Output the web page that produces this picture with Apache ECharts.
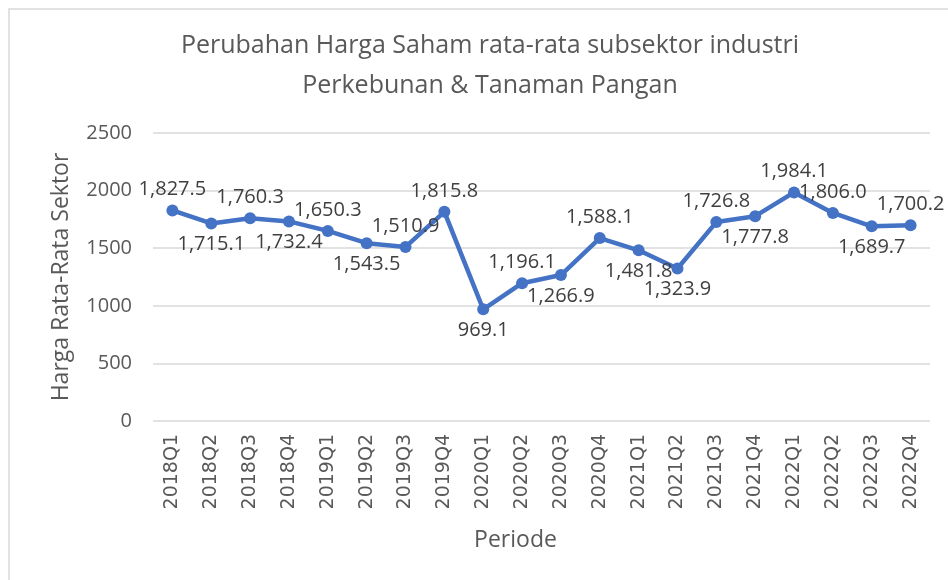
<!DOCTYPE html>
<html>
<head>
  <meta charset="utf-8">
  <title>Perubahan Harga Saham</title>
  <script src="https://cdn.jsdelivr.net/npm/echarts@6/dist/echarts.min.js"></script>
  <style>
    html, body { margin: 0; padding: 0; background: #fff; }
    #chart { width: 948px; height: 580px; }
  </style>
</head>
<body>
  <div id="chart"></div>
  <script>
    // periods on the x axis
    const periods = ['2018Q1', '2018Q2', '2018Q3', '2018Q4', '2019Q1', '2019Q2', '2019Q3', '2019Q4',
      '2020Q1', '2020Q2', '2020Q3', '2020Q4', '2021Q1', '2021Q2', '2021Q3', '2021Q4',
      '2022Q1', '2022Q2', '2022Q3', '2022Q4'];
    // average sector price
    const prices = [1827.5, 1715.1, 1760.3, 1732.4, 1650.3, 1543.5, 1510.9, 1815.8,
      969.1, 1196.1, 1266.9, 1588.1, 1481.8, 1323.9, 1726.8, 1777.8,
      1984.1, 1806.0, 1689.7, 1700.2];
    // where each data label sits, as in the original
    const labelSide = ['top', 'bottom', 'top', 'bottom', 'top', 'bottom', 'top', 'top',
      'bottom', 'top', 'bottom', 'top', 'bottom', 'bottom', 'top', 'bottom',
      'top', 'top', 'bottom', 'top'];

    const font = 'Open Sans';
    const grey = '#595959';

    const chart = echarts.init(document.getElementById('chart'));

    const option = {
      animation: false,
      title: {
        text: 'Perubahan Harga Saham rata-rata subsektor industri\nPerkebunan & Tanaman Pangan',
        left: 485,
        textAlign: 'center',
        top: 21,
        textStyle: {
          fontFamily: font,
          fontWeight: 'normal',
          fontSize: 25,
          color: grey,
          lineHeight: 40
        }
      },
      graphic: [{
        type: 'rect',
        shape: { x: 9, y: 9, width: 960, height: 600 },
        style: { fill: 'none', stroke: '#d9d9d9', lineWidth: 1.5 },
        silent: true
      }],
      grid: { left: 153, right: 18, top: 133, bottom: 159 },
      xAxis: {
        type: 'category',
        data: periods,
        name: 'Periode',
        nameLocation: 'middle',
        nameGap: 108,
        nameTextStyle: { fontFamily: font, fontSize: 23, color: grey, padding: [0, 52, 0, 0] },
        axisLine: { show: false },
        axisTick: { show: false },
        axisLabel: {
          rotate: 90,
          margin: 13,
          fontFamily: 'DejaVu Sans',
          fontSize: 19,
          color: grey
        }
      },
      yAxis: {
        type: 'value',
        min: 0,
        max: 2500,
        interval: 500,
        name: 'Harga Rata-Rata Sektor',
        nameLocation: 'middle',
        nameGap: 80,
        nameTextStyle: { fontFamily: font, fontSize: 23, color: grey },
        axisLine: { show: false },
        axisTick: { show: false },
        axisLabel: {
          fontFamily: font,
          fontSize: 20,
          color: grey,
          margin: 21,
          formatter: function (v) { return String(v); }
        },
        splitLine: { lineStyle: { color: '#d9d9d9', width: 1.5 } }
      },
      series: [{
        type: 'line',
        data: prices.map(function (v, i) {
          return { value: v, label: { position: labelSide[i] } };
        }),
        symbol: 'circle',
        symbolSize: 12,
        lineStyle: { color: '#4472c4', width: 4.5 },
        itemStyle: { color: '#4472c4' },
        label: {
          show: true,
          distance: 5,
          fontFamily: font,
          fontSize: 20,
          color: '#404040',
          formatter: function (p) {
            return p.value.toLocaleString('en-US', { minimumFractionDigits: 1, maximumFractionDigits: 1 });
          }
        }
      }]
    };

    chart.setOption(option);
  </script>
</body>
</html>
